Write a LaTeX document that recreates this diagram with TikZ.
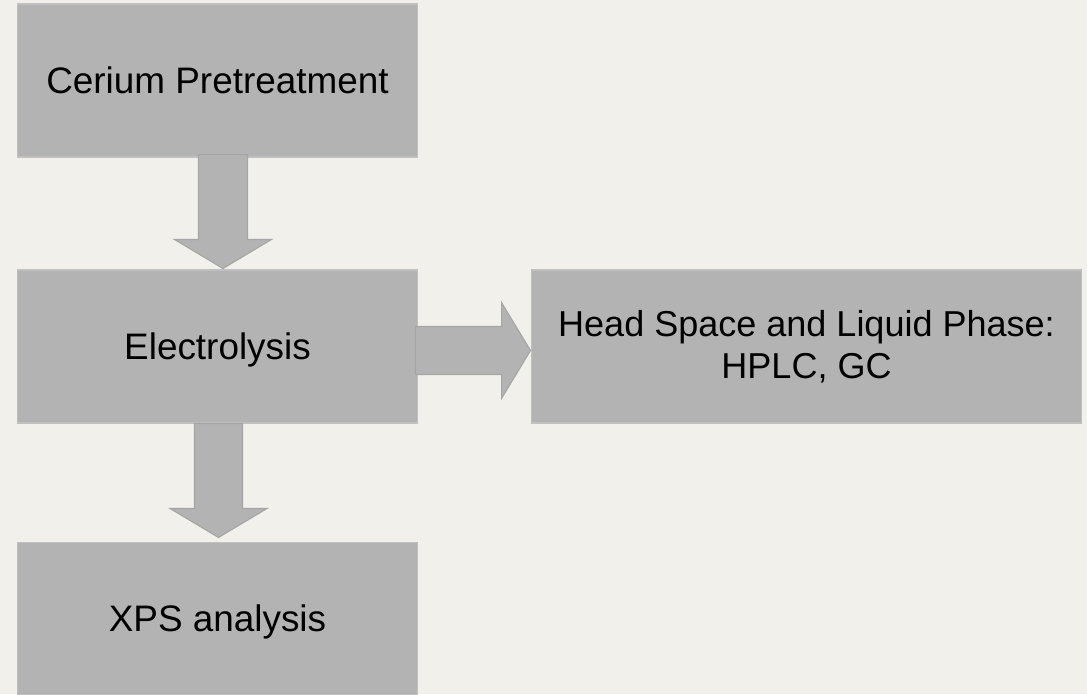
\documentclass[tikz,border=0pt]{standalone}
\usepackage{fontspec}
\setmainfont{Liberation Sans}
\usepackage{xcolor}
\usetikzlibrary{calc}

\definecolor{paper}{RGB}{242,240,234}
\definecolor{boxgray}{RGB}{179,179,179}
\definecolor{boxedge}{RGB}{192,192,192}
\definecolor{arrowedge}{RGB}{165,165,165}

\tikzset{
    stagebox/.style={fill=boxgray, draw=boxedge, line width=0.6pt,
        minimum width=8.02cm, minimum height=3.06cm, inner sep=0pt,
        align=center, font=\fontsize{21}{24}\selectfont},
    oneline/.style={text height=15pt, text depth=0pt},
    blockarrow/.style={fill=boxgray, draw=arrowedge, line width=0.6pt, line join=miter}
}

\begin{document}
\begin{tikzpicture}[x=0.02cm, y=-0.02cm]
        \fill[paper] (0, 0) rectangle (1087, 694);
        \useasboundingbox (0, 0) rectangle (1087, 694);

        % boxes
        \node[stagebox, oneline] (pre) at (217.5, 80.5) {Cerium Pretreatment};
        \node[stagebox, oneline] (ely) at (217.5, 346.5) {Electrolysis};
        \node[stagebox, minimum width=11.02cm, font=\fontsize{20.5}{23.8}\selectfont]
            (res) at (806.5, 346.5) {Head Space and Liquid Phase:\\HPLC, GC};
        \node[stagebox, oneline] (xps) at (217.5, 618.5) {XPS analysis};

        % block arrows
        \coordinate (t1) at ($(ely.north)+(5.5, -1)$);
        \draw[blockarrow] ($(t1|-pre.south)+(-24.5, -3)$) -- ($(t1|-pre.south)+(24.5, -3)$)
            -- ($(t1)+(24.5, -29)$) -- ($(t1)+(48.5, -29)$) -- (t1)
            -- ($(t1)+(-48.5, -29)$) -- ($(t1)+(-24.5, -29)$) -- cycle;

        \coordinate (t2) at ($(res.west)+(0, 4)$);
        \draw[blockarrow] ($(t2-|ely.east)+(-3, -24)$) -- ($(t2)+(-29, -24)$)
            -- ($(t2)+(-29, -48)$) -- (t2) -- ($(t2)+(-29, 48)$)
            -- ($(t2)+(-29, 24)$) -- ($(t2-|ely.east)+(-3, 24)$) -- cycle;

        \coordinate (t3) at ($(xps.north)+(1, -4)$);
        \draw[blockarrow] ($(t3|-ely.south)+(-24, 0)$) -- ($(t3|-ely.south)+(24, 0)$)
            -- ($(t3)+(24, -29)$) -- ($(t3)+(48.5, -29)$) -- (t3)
            -- ($(t3)+(-48.5, -29)$) -- ($(t3)+(-24, -29)$) -- cycle;
    \end{tikzpicture}
\end{document}
